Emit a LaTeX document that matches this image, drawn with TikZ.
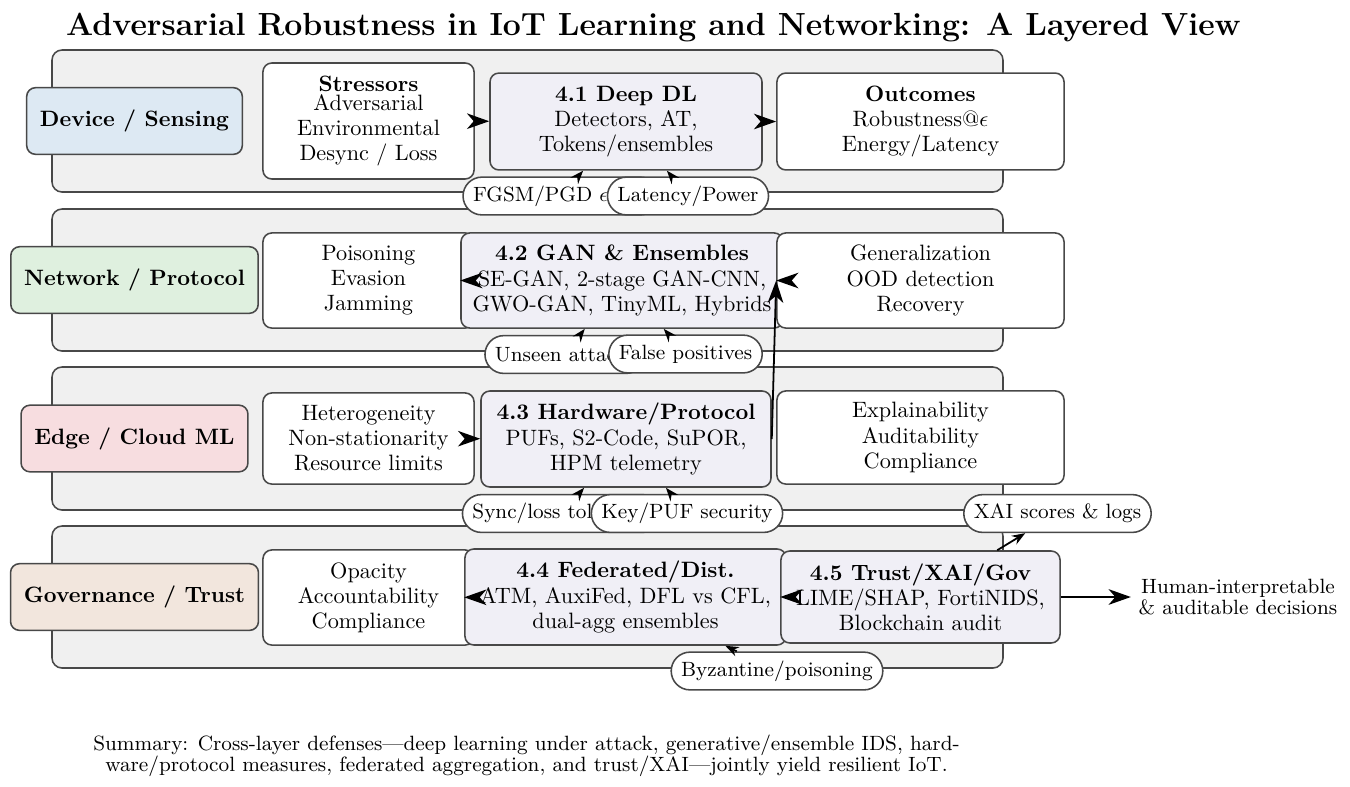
\documentclass[tikz,border=0pt]{standalone}
\usetikzlibrary{arrows.meta}
\definecolor{bandfill}{RGB}{240,240,240}
\definecolor{bordc}{RGB}{72,72,72}
\definecolor{defc}{RGB}{240,239,246}
\definecolor{devc}{RGB}{221,233,243}
\definecolor{netc}{RGB}{223,240,223}
\definecolor{edgc}{RGB}{247,221,224}
\definecolor{govc}{RGB}{242,230,221}
\begin{document}
\begin{tikzpicture}[x=0.45pt,y=-0.45pt,
  band/.style={draw=bordc, line width=0.7pt, fill=bandfill, rounded corners=4.5pt},
  layer/.style={draw=bordc, line width=0.7pt, rounded corners=4pt, font=\bfseries,
    minimum height=30pt, inner xsep=6pt},
  box/.style={draw=bordc, line width=0.7pt, rounded corners=4pt, fill=white, align=center,
    font=\fontsize{10}{11.3}\selectfont, inner xsep=1.5pt},
  defbox/.style={box, fill=defc},
  pill/.style={draw=bordc, line width=0.7pt, rounded corners=8.5pt, fill=white,
    minimum height=17pt, inner xsep=4.5pt, font=\fontsize{9.3}{9.5}\selectfont},
  arr/.style={line width=0.8pt, -{Stealth[length=10pt,width=7pt,inset=3pt]}},
  arrb/.style={line width=1.2pt, -{Stealth[length=10pt,width=7pt,inset=3pt]}},
  sarr/.style={line width=0.8pt, -{Stealth[length=6pt,width=4.5pt,inset=2pt]}}
]
\useasboundingbox (0,0) rectangle (1350,786);

\node[font=\Large\bfseries] (title) at (653.5,28) {Adversarial Robustness in IoT Learning and Networking: A Layered View};

% bands
\draw[band] (52,50) rectangle (1003,192);
\draw[band] (52,209) rectangle (1003,351);
\draw[band] (52,367) rectangle (1003,510);
\draw[band] (52,526) rectangle (1003,668);

% layer labels
\node[layer, fill=devc] (dev) at (134.5,121) {Device / Sensing};
\node[layer, fill=netc] (net) at (134.5,280) {Network / Protocol};
\node[layer, fill=edgc] (edg) at (134.5,438.5) {Edge / Cloud ML};
\node[layer, fill=govc] (gov) at (134.5,597) {Governance / Trust};

% layer 1
\node[box, minimum width=95pt, minimum height=52.2pt] (stress) at (368.5,121)
  {\textbf{Stressors}\\[-2.75pt]Adversarial\\Environmental\\Desync / Loss};
\node[defbox, minimum width=122.4pt, minimum height=43.6pt] (dl) at (626,121.5)
  {\textbf{4.1 Deep DL}\\Detectors, AT,\\Tokens/ensembles};
\node[box, minimum width=129.2pt, minimum height=43.6pt] (out) at (920.5,121.5)
  {\textbf{Outcomes}\\Robustness@$\epsilon$\\Energy/Latency};

% layer 2
\node[box, minimum width=95pt, minimum height=42.8pt] (poison) at (368.5,280.5)
  {Poisoning\\Evasion\\Jamming};
\node[defbox, minimum width=144.9pt, minimum height=42.8pt] (gan) at (622,280.5)
  {\textbf{4.2 GAN \& Ensembles}\\SE-GAN, 2-stage GAN-CNN,\\GWO-GAN, TinyML, Hybrids};
\node[box, minimum width=129.2pt, minimum height=42.8pt] (gen) at (920.5,280.5)
  {Generalization\\OOD detection\\Recovery};

% layer 3
\node[box, minimum width=95pt, minimum height=41pt] (het) at (368.5,438.5)
  {Heterogeneity\\Non-stationarity\\Resource limits};
\node[defbox, minimum width=130.5pt, minimum height=43.2pt] (hw) at (626,439)
  {\textbf{4.3 Hardware/Protocol}\\PUFs, S2-Code, SuPOR,\\HPM telemetry};
\node[box, minimum width=129.2pt, minimum height=41.9pt] (exp) at (920.5,437.5)
  {Explainability\\Auditability\\Compliance};

% layer 4
\node[box, minimum width=95pt, minimum height=42.8pt] (opa) at (368.5,597.5)
  {Opacity\\Accountability\\Compliance};
\node[defbox, minimum width=144.5pt, minimum height=43.2pt] (fed) at (625.5,597)
  {\textbf{4.4 Federated/Dist.}\\ATM, AuxiFed, DFL vs CFL,\\dual-agg ensembles};
\node[defbox, minimum width=125.6pt, minimum height=41.4pt] (trust) at (920.5,597)
  {\textbf{4.5 Trust/XAI/Gov}\\LIME/SHAP, FortiNIDS,\\Blockchain audit};

\node[align=center, font=\fontsize{9.3}{9.5}\selectfont] (human) at (1238,597)
  {Human-interpretable\\\& auditable decisions};

% pills
\node[pill] (p1a) at (561,196) {FGSM/PGD $\epsilon$-ball};
\node[pill] (p1b) at (688,196) {Latency/Power};
\node[pill] (p2a) at (565,354.5) {Unseen attacks};
\node[pill] (p2b) at (685.5,354) {False positives};
\node[pill] (p3a) at (562,513.5) {Sync/loss tolerance};
\node[pill] (p3b) at (687,513.5) {Key/PUF security};
\node[pill] (p4) at (777,671) {Byzantine/poisoning};
\node[pill] (xai) at (1057.5,513.5) {XAI scores \& logs};

% main flow arrows
\draw[arr] (stress) -- (dl);
\draw[arr] (dl) -- (out);
\draw[arr] (poison) -- (gan);
\draw[arr] (gan) -- (gen);
\draw[arr] (het) -- (hw);
\draw[arr] (hw.east) -- (gen.west);
\draw[arr] (opa) -- (fed);
\draw[arr] (fed) -- (trust);
\draw[arrb] (trust) -- (human);

% pill arrows
\draw[sarr] (p1a) -- (dl);
\draw[sarr] (p1b) -- (dl);
\draw[sarr] (p2a) -- (gan);
\draw[sarr] (p2b) -- (gan);
\draw[sarr] (p3a) -- (hw);
\draw[sarr] (p3b) -- (hw);
\draw[sarr] (p4) -- (fed);
\draw[sarr] (trust) -- (xai);

\node[align=center, font=\fontsize{9.3}{9.5}\selectfont] (summary) at (526.5,755.5)
  {Summary: Cross-layer defenses---deep learning under attack, generative/ensemble IDS, hard-\\ware/protocol measures, federated aggregation, and trust/XAI---jointly yield resilient IoT.};
\end{tikzpicture}
\end{document}
